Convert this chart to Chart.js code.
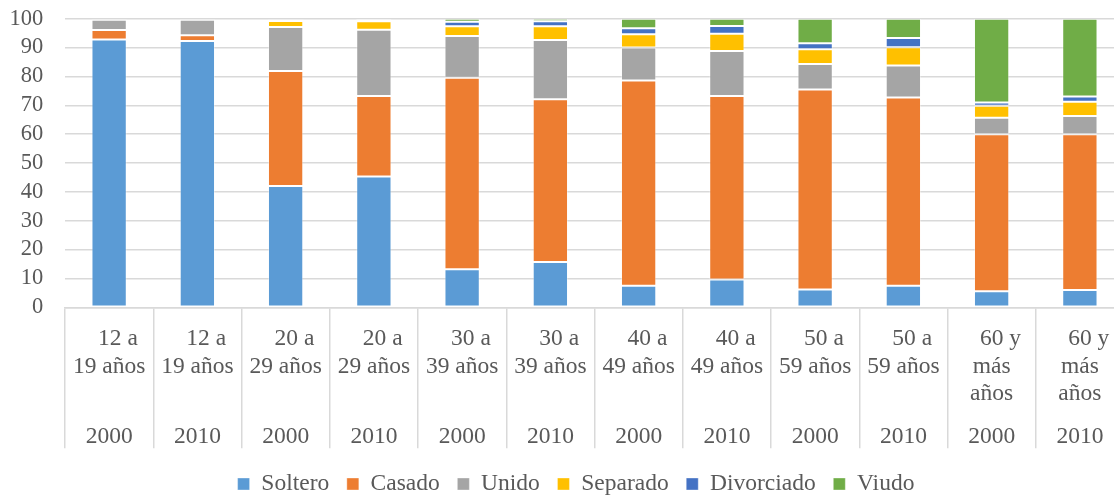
<!DOCTYPE html>
<html lang="es">
<head>
<meta charset="utf-8">
<title>Estado civil por grupo de edad, 2000 y 2010</title>
<script src="https://cdn.jsdelivr.net/npm/chart.js@4.4.1/dist/chart.umd.min.js"></script>
<style>
  html, body { margin: 0; padding: 0; background: #ffffff; overflow: hidden; }
  #wrap { position: relative; width: 1124px; height: 506px; }
</style>
</head>
<body>
<div id="wrap"><canvas id="chart"></canvas></div>
<script>
// Age groups (first line keeps the leading spaces of the wrapped label)
const ageLabels = [
  ['   12 a', '19 años'], ['   12 a', '19 años'],
  ['   20 a', '29 años'], ['   20 a', '29 años'],
  ['   30 a', '39 años'], ['   30 a', '39 años'],
  ['   40 a', '49 años'], ['   40 a', '49 años'],
  ['   50 a', '59 años'], ['   50 a', '59 años'],
  ['   60 y', 'más', 'años'], ['   60 y', 'más', 'años']
];
const yearLabels = ['2000', '2010', '2000', '2010', '2000', '2010',
                    '2000', '2010', '2000', '2010', '2000', '2010'];

// Percent of population by marital status
const soltero    = [92.8, 92.3, 42.0, 45.3, 13.2, 15.7, 7.5, 9.6, 6.2, 7.5, 5.6, 6.0];
const casado     = [3.3, 2.0, 39.9, 27.9, 66.3, 56.4, 71.1, 63.6, 69.3, 65.2, 54.4, 54.0];
const unido      = [3.5, 5.3, 15.2, 23.0, 14.5, 20.5, 11.4, 15.6, 8.8, 11.1, 5.7, 6.3];
const separado   = [0.3, 0.3, 2.1, 2.9, 3.4, 4.8, 4.6, 6.0, 5.1, 6.3, 4.1, 4.9];
const divorciado = [0.05, 0.05, 0.5, 0.4, 1.5, 1.7, 2.1, 2.7, 2.1, 3.2, 1.2, 1.8];
const viudo      = [0.05, 0.05, 0.3, 0.5, 1.1, 0.9, 3.3, 2.5, 8.5, 6.7, 29.0, 27.0];

const yTicks = [0, 10, 20, 30, 40, 50, 60, 70, 80, 90, 100];

const seriesNames  = ['Soltero', 'Casado', 'Unido', 'Separado', 'Divorciado', 'Viudo'];
const seriesValues = [soltero, casado, unido, separado, divorciado, viudo];
const seriesColors = ['#5B9BD5', '#ED7D31', '#A5A5A5', '#FFC000', '#4472C4', '#70AD47'];

const FONT = "'Liberation Serif', 'Times New Roman', serif";
const TEXT = '#595959';
const GRID = '#d9d9d9';

const datasets = seriesNames.map((name, i) => ({
  label: name,
  data: seriesValues[i],
  backgroundColor: seriesColors[i],
  borderColor: 'rgba(255,255,255,0.35)',
  borderWidth: 1,
  borderSkipped: false,
  barPercentage: 0.4,
  categoryPercentage: 1.0
}));

new Chart(document.getElementById('chart'), {
  type: 'bar',
  data: { labels: ageLabels, datasets },
  options: {
    responsive: true,
    maintainAspectRatio: false,
    devicePixelRatio: 1,
    animation: false,
    layout: { padding: { top: 18.7, left: 28, right: 0, bottom: 0.25 } },
    plugins: {
      tooltip: { enabled: false },
      legend: {
        position: 'bottom',
        labels: {
          boxWidth: 12,
          boxHeight: 12,
          padding: 17.6,
          color: TEXT,
          font: { family: FONT, size: 23.5 }
        }
      }
    },
    scales: {
      x: {
        stacked: true,
        offset: true,
        grid: {
          display: true,
          offset: true,
          drawOnChartArea: false,
          drawTicks: true,
          tickLength: 102.7,
          color: GRID,
          lineWidth: 1.5
        },
        border: { display: true, color: GRID, width: 1.5 },
        ticks: {
          autoSkip: false,
          maxRotation: 0,
          minRotation: 0,
          padding: -84.5,
          color: TEXT,
          font: { family: FONT, size: 23.5, lineHeight: '27.4px' }
        },
        afterFit: (scale) => { scale.height = 102.7; }
      },
      x2: {
        type: 'category',
        position: 'bottom',
        labels: yearLabels,
        offset: true,
        grid: {
          display: true,
          offset: true,
          drawOnChartArea: false,
          drawTicks: true,
          tickLength: 38.3,
          color: GRID,
          lineWidth: 1.5
        },
        border: { display: false },
        ticks: {
          autoSkip: false,
          maxRotation: 0,
          minRotation: 0,
          padding: -25,
          color: TEXT,
          font: { family: FONT, size: 23.5, lineHeight: '27px' }
        },
        afterFit: (scale) => { scale.height = 44.65; }
      },
      y: {
        stacked: true,
        min: 0,
        max: 100,
        afterBuildTicks: (scale) => { scale.ticks = yTicks.map(v => ({ value: v })); },
        grid: { color: GRID, lineWidth: 1.5, drawTicks: false },
        border: { display: false },
        ticks: {
          autoSkip: false,
          mirror: true,
          crossAlign: 'far',
          padding: -55.45,
          color: TEXT,
          font: { family: FONT, size: 22.5 }
        },
        afterFit: (scale) => { scale.width = 37; }
      }
    }
  }
});
</script>
</body>
</html>
